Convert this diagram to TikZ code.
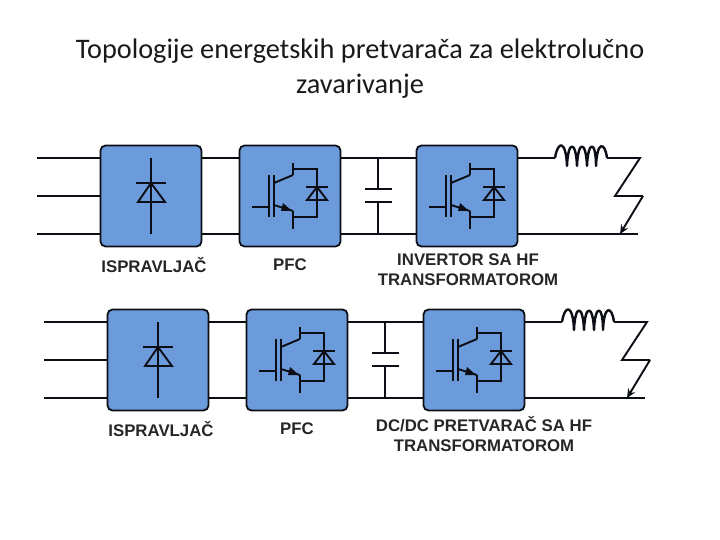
\documentclass[tikz,border=0pt]{standalone}
\usepackage{fontspec}
\setmainfont{Liberation Sans}
\newfontfamily\titlefont{Carlito}
\usetikzlibrary{arrows.meta}
\definecolor{blockblue}{RGB}{108,155,220}
\definecolor{wirecol}{RGB}{12,14,22}
\tikzset{
  block/.style={draw=wirecol,line width=1.8pt,fill=blockblue,rounded corners=5pt,minimum width=101pt,minimum height=101pt,inner sep=0pt},
  wire/.style={draw=wirecol,line width=1.9pt},
  lbl/.style={font=\fontsize{16.8}{20}\selectfont\bfseries,text=black!85,align=center,inner sep=0pt},
  titletext/.style={font=\titlefont\fontsize{28.3}{35}\selectfont,text=black!90,align=center,inner sep=0pt},
  pics/rectdiode/.style={code={
    \draw[wire] (0,-38) -- (0,38);
    \draw[wire] (-15,-13) -- (15,-13);
    \draw[wire] (0,-13) -- (-13,6) -- (14,6) -- cycle;
  }},
  pics/igbt/.style={code={
    % gate and channel
    \draw[wire] (-38,11) -- (-21,11);
    \draw[wire] (-21,-21) -- (-21,21);
    \draw[wire] (-16,-21) -- (-16,21);
    % collector, emitter
    \draw[wire] (-16,-13) -- (3,-21);
    \draw[wire] (3,-33) -- (3,-21);
    \draw[wire] (-16,9) -- (3,15);
    \draw[wire] (3,15) -- (3,33);
    \fill[wirecol] (2,15) -- (-7,7) -- (-9,15) -- cycle;
    % free-wheeling diode
    \draw[wire] (3,-27) -- (27,-27) -- (27,21) -- (3,21);
    \draw[wire] (16,-9) -- (38,-9);
    \draw[wire] (27,-9) -- (17,4) -- (37,4) -- cycle;
  }}
}
\begin{document}
\begin{tikzpicture}[x=1pt,y=-1pt]
  \useasboundingbox (0,0) rectangle (720,540);

  % Title
  \node[titletext] (title) at (360,69) {Topologije energetskih pretvarača za elektrolučno\\zavarivanje};

  % Draw both rows
  \foreach \r/\dx/\dy/\lastlbl/\lastx in {a/0/0/{INVERTOR SA HF\\TRANSFORMATOROM}/468,b/7/164/{DC/DC PRETVARAČ SA HF\\TRANSFORMATOROM}/477} {
    \begin{scope}[shift={(\dx,\dy)}]
      % blocks
      \node[block] (\r-rect) at (151,196) {};
      \node[block] (\r-pfc) at (290,196) {};
      \node[block] (\r-inv) at (467,196) {};
      \pic (\r-d) at (\r-rect.center) {rectdiode};
      \pic (\r-q1) at (\r-pfc.center) {igbt};
      \pic (\r-q2) at (\r-inv.center) {igbt};

      % labels
      \node[lbl] (\r-lblrect) at (154,265) {ISPRAVLJAČ};
      \node[lbl] (\r-lblpfc) at (290,265) {PFC};
      \node[lbl] (\r-lblinv) at (\lastx,270) {\lastlbl};

      % input wires
      \coordinate (\r-in1) at (37,158);
      \coordinate (\r-in2) at (37,196);
      \coordinate (\r-in3) at (37,234);
      \draw[wire] (\r-in1) -- (\r-in1 -| \r-rect.west);
      \draw[wire] (\r-in2) -- (\r-rect.west);
      \draw[wire] (\r-in3) -- (\r-in3 -| \r-rect.west);

      % wires between blocks
      \coordinate (\r-top) at (151,158);
      \coordinate (\r-bot) at (151,234);
      \draw[wire] (\r-top -| \r-rect.east) -- (\r-top -| \r-pfc.west);
      \draw[wire] (\r-bot -| \r-rect.east) -- (\r-bot -| \r-pfc.west);
      \draw[wire] (\r-top -| \r-pfc.east) -- (\r-top -| \r-inv.west);
      \draw[wire] (\r-bot -| \r-pfc.east) -- (\r-bot -| \r-inv.west);

      % capacitor
      \coordinate (\r-cap1) at (378,189);
      \coordinate (\r-cap2) at (378,202);
      \draw[wire] (\r-top -| \r-cap1) -- (\r-cap1);
      \draw[wire] (\r-cap2) -- (\r-bot -| \r-cap2);
      \draw[wire] (365,189) -- (392,189);
      \draw[wire] (365,202) -- (392,202);

      % inductor
      \coordinate (\r-l1) at (555,158);
      \coordinate (\r-l2) at (607,158);
      \draw[wire] (\r-top -| \r-inv.east) -- (\r-l1);
      \draw[wire,line width=2.4pt,line join=round] (\r-l1) .. controls (558,140) and (566,140) .. (567,166)
        .. controls (568,140) and (576,140) .. (577,166)
        .. controls (578,140) and (586,140) .. (587,166)
        .. controls (588,140) and (596,140) .. (596,166)
        .. controls (597,140) and (605,142) .. (\r-l2);

      % load and return
      \coordinate (\r-z1) at (640,158);
      \coordinate (\r-z2) at (615,196);
      \coordinate (\r-z3) at (643,196);
      \coordinate (\r-z4) at (620,234);
      \coordinate (\r-out) at (638,234);
      \draw[wire] (\r-l2) -- (\r-z1) -- (\r-z2) -- (\r-z3);
      \draw[wire,-{Stealth[length=9pt,width=8pt]}] (\r-z3) -- (\r-z4);
      \draw[wire] (\r-bot -| \r-inv.east) -- (\r-out);
    \end{scope}
  }
\end{tikzpicture}
\end{document}
